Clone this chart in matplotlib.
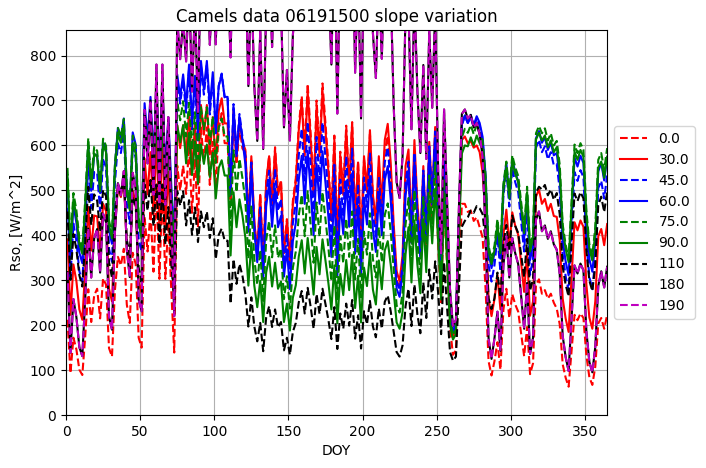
import matplotlib
matplotlib.use("Agg")
import matplotlib.pyplot as plt

days = list(range(1, 366, 2))

rso_0 = [212, 93, 172, 146, 101, 89, 177, 280, 207, 266, 281, 215, 304, 290, 149, 130, 278, 352, 333, 370,
         246, 205, 361, 336, 172, 150, 441, 364, 455, 319, 505, 303, 505, 303, 429, 278, 139, 555, 500, 555,
         492, 600, 450, 570, 420, 640, 563, 640, 512, 608, 504, 638, 672, 605, 605, 475, 663, 558, 642, 593,
         585, 428, 570, 428, 357, 490, 338, 518, 576, 468, 596, 494, 523, 364, 436, 344, 476, 527, 644, 710,
         590, 737, 626, 501, 700, 590, 738, 649, 554, 443, 622, 381, 586, 498, 644, 507, 652, 434, 565, 376,
         568, 497, 625, 483, 426, 552, 449, 587, 621, 538, 402, 302, 281, 335, 523, 544, 384, 563, 435, 352,
         492, 360, 540, 432, 570, 379, 251, 473, 334, 195, 134, 144, 312, 470, 470, 452, 455, 432, 440, 418,
         395, 280, 120, 88, 120, 162, 101, 234, 281, 216, 269, 246, 230, 180, 131, 196, 91, 115, 290, 302,
         270, 278, 259, 270, 250, 237, 202, 113, 83, 63, 144, 223, 211, 226, 216, 132, 84, 67, 108, 204,
         216, 192, 223]
rso_30 = [391, 223, 335, 298, 235, 212, 328, 463, 366, 444, 442, 361, 470, 454, 281, 253, 421, 506, 485, 527,
          375, 331, 499, 473, 296, 271, 571, 491, 585, 445, 615, 418, 615, 418, 541, 387, 258, 645, 594, 645,
          578, 675, 540, 648, 513, 690, 624, 690, 580, 663, 564, 677, 705, 649, 649, 486, 679, 572, 658, 608,
          590, 432, 576, 432, 360, 490, 338, 518, 576, 468, 590, 490, 518, 360, 432, 338, 468, 518, 634, 698,
          576, 720, 612, 490, 684, 576, 720, 634, 540, 432, 612, 374, 576, 490, 634, 504, 648, 432, 562, 374,
          576, 504, 634, 490, 432, 576, 468, 612, 648, 562, 426, 320, 298, 355, 554, 591, 417, 612, 473, 382,
          554, 405, 608, 486, 641, 442, 293, 553, 390, 228, 176, 189, 410, 612, 620, 605, 610, 595, 600, 585,
          539, 445, 258, 220, 258, 311, 235, 400, 457, 377, 451, 421, 401, 337, 274, 361, 221, 253, 486, 502,
          470, 481, 454, 470, 443, 441, 389, 259, 215, 185, 309, 429, 411, 433, 419, 290, 217, 192, 253, 398,
          414, 378, 425]
rso_45 = [486, 308, 426, 387, 320, 297, 419, 562, 460, 541, 539, 454, 568, 552, 370, 341, 517, 605, 583, 627,
          472, 426, 600, 572, 389, 364, 670, 589, 685, 542, 715, 515, 715, 515, 640, 485, 354, 745, 693, 745,
          673, 770, 636, 743, 608, 778, 713, 778, 669, 751, 627, 733, 760, 707, 707, 495, 692, 582, 670, 619,
          576, 422, 562, 422, 352, 462, 320, 490, 544, 442, 548, 454, 481, 334, 401, 309, 427, 473, 578, 637,
          522, 652, 554, 443, 619, 521, 651, 573, 488, 391, 557, 341, 524, 445, 576, 461, 593, 395, 514, 343,
          529, 463, 582, 449, 397, 530, 430, 563, 596, 516, 398, 298, 278, 332, 517, 564, 398, 584, 452, 365,
          544, 398, 598, 478, 631, 452, 299, 565, 399, 233, 186, 200, 432, 645, 665, 650, 662, 640, 660, 645,
          610, 518, 334, 297, 334, 397, 320, 487, 546, 464, 549, 518, 496, 430, 364, 462, 312, 347, 595, 612,
          585, 598, 569, 585, 556, 558, 501, 358, 309, 277, 409, 541, 521, 545, 529, 386, 307, 280, 347, 505,
          521, 482, 533]
rso_60 = [526, 350, 467, 428, 361, 338, 459, 600, 499, 580, 578, 494, 607, 590, 411, 381, 553, 639, 617, 660,
          505, 460, 629, 602, 425, 400, 694, 616, 708, 570, 733, 543, 733, 543, 662, 512, 389, 758, 709, 758,
          689, 780, 653, 755, 628, 788, 726, 788, 685, 763, 634, 732, 757, 708, 708, 490, 684, 576, 662, 612,
          558, 408, 544, 408, 340, 439, 303, 464, 516, 419, 504, 418, 443, 308, 369, 280, 387, 428, 524, 577,
          470, 588, 500, 400, 559, 470, 587, 517, 440, 352, 503, 308, 474, 403, 521, 419, 538, 359, 466, 311,
          484, 424, 532, 411, 363, 492, 400, 523, 554, 480, 375, 281, 263, 313, 488, 542, 383, 561, 434, 351,
          533, 390, 585, 468, 618, 449, 297, 561, 396, 231, 187, 200, 434, 647, 667, 650, 668, 645, 665, 650,
          619, 533, 361, 327, 361, 421, 348, 506, 561, 485, 570, 540, 520, 457, 393, 488, 345, 377, 616, 632,
          606, 618, 590, 606, 578, 583, 527, 390, 342, 311, 444, 573, 553, 577, 561, 425, 347, 319, 386, 542,
          561, 522, 573]
rso_75 = [550, 381, 494, 456, 393, 369, 483, 616, 521, 597, 588, 510, 615, 599, 433, 402, 560, 639, 619, 659,
          510, 470, 622, 598, 438, 409, 671, 602, 684, 561, 693, 527, 693, 527, 631, 489, 384, 698, 656, 698,
          620, 695, 591, 674, 570, 685, 636, 685, 603, 665, 561, 640, 660, 620, 620, 422, 589, 496, 570, 527,
          476, 348, 464, 348, 290, 367, 254, 389, 432, 351, 422, 350, 371, 258, 309, 237, 328, 364, 444, 490,
          398, 498, 423, 339, 473, 397, 496, 436, 372, 298, 422, 258, 398, 338, 437, 352, 453, 302, 392, 262,
          408, 357, 449, 347, 306, 418, 340, 445, 471, 408, 325, 244, 228, 271, 423, 483, 341, 500, 386, 312,
          485, 355, 533, 426, 562, 420, 278, 525, 371, 216, 178, 191, 414, 618, 637, 628, 645, 625, 647, 625,
          611, 533, 377, 346, 377, 436, 369, 514, 564, 494, 578, 551, 532, 473, 415, 508, 373, 404, 627, 643,
          627, 638, 611, 627, 600, 610, 557, 424, 379, 348, 477, 602, 583, 605, 590, 455, 380, 355, 418, 568,
          583, 546, 594]
rso_90 = [534, 370, 480, 443, 381, 359, 470, 600, 507, 582, 574, 498, 601, 585, 423, 393, 547, 625, 606, 644,
          495, 456, 605, 582, 425, 393, 645, 578, 657, 539, 655, 498, 655, 498, 596, 452, 355, 645, 607, 645,
          560, 628, 534, 609, 515, 602, 559, 602, 530, 584, 482, 550, 567, 533, 533, 355, 496, 418, 480, 444,
          394, 288, 384, 288, 240, 299, 207, 317, 352, 286, 339, 281, 297, 207, 248, 188, 261, 289, 353, 389,
          315, 394, 335, 268, 374, 313, 391, 344, 293, 235, 333, 204, 314, 267, 345, 278, 357, 238, 310, 206,
          328, 287, 361, 279, 246, 344, 280, 366, 387, 335, 275, 206, 192, 229, 357, 418, 295, 433, 335, 271,
          435, 318, 477, 382, 504, 388, 257, 485, 342, 200, 168, 180, 390, 582, 600, 598, 618, 600, 622, 605,
          593, 518, 366, 336, 366, 425, 360, 501, 551, 482, 564, 537, 518, 462, 405, 496, 364, 395, 613, 628,
          611, 622, 596, 611, 585, 596, 544, 414, 370, 340, 465, 586, 568, 590, 575, 442, 370, 344, 406, 551,
          564, 528, 575]
rso_110 = [453, 301, 403, 369, 311, 286, 389, 508, 423, 491, 477, 408, 501, 487, 340, 306, 444, 513, 496, 530,
           390, 356, 486, 465, 328, 296, 513, 455, 523, 421, 513, 380, 513, 380, 463, 336, 256, 498, 466, 498,
           422, 478, 401, 462, 385, 453, 418, 453, 394, 438, 347, 401, 415, 388, 388, 248, 347, 292, 336, 310,
           269, 197, 262, 197, 164, 205, 142, 217, 242, 196, 235, 195, 207, 144, 172, 134, 185, 205, 251, 276,
           226, 283, 241, 192, 269, 225, 281, 247, 211, 169, 240, 147, 226, 192, 248, 199, 256, 170, 222, 148,
           231, 202, 254, 197, 173, 237, 192, 252, 266, 231, 186, 140, 130, 155, 242, 281, 198, 290, 224, 182,
           295, 216, 324, 259, 342, 272, 180, 340, 240, 140, 121, 130, 281, 419, 432, 440, 455, 450, 465, 460,
           447, 385, 260, 236, 260, 317, 262, 381, 423, 365, 444, 421, 405, 356, 307, 392, 277, 303, 495, 508,
           502, 512, 489, 502, 479, 494, 447, 330, 290, 264, 382, 493, 476, 496, 482, 367, 299, 276, 333, 467,
           486, 452, 497]
rso_180 = [318, 139, 258, 218, 151, 131, 262, 415, 306, 393, 414, 317, 448, 429, 219, 190, 407, 516, 489, 543,
           368, 307, 539, 503, 257, 231, 679, 560, 700, 490, 780, 468, 780, 468, 663, 440, 220, 880, 792, 880,
           787, 960, 720, 912, 672, 1030, 906, 1030, 824, 979, 825, 1045, 1100, 990, 990, 796, 1112, 936, 1076, 995,
           1000, 732, 976, 732, 610, 857, 592, 907, 1008, 819, 1050, 870, 922, 640, 768, 611, 845, 936, 1144, 1261,
           1040, 1300, 1105, 884, 1235, 1040, 1300, 1144, 975, 780, 1097, 671, 1032, 877, 1135, 889, 1143, 762, 991, 660,
           1000, 875, 1100, 850, 750, 976, 793, 1037, 1098, 952, 690, 518, 483, 575, 897, 901, 636, 933, 721, 583,
           779, 570, 855, 684, 903, 544, 360, 680, 480, 280, 198, 212, 460, 670, 680, 660, 668, 640, 650, 625,
           575, 399, 171, 125, 171, 230, 143, 332, 398, 306, 394, 360, 336, 264, 192, 294, 136, 172, 435, 453,
           409, 422, 392, 409, 380, 368, 314, 176, 129, 98, 215, 333, 315, 337, 322, 186, 118, 95, 152, 287,
           320, 284, 330]
rso_190 = list(rso_180)

labels = ["0.0", "30.0", "45.0", "60.0", "75.0", "90.0", "110", "180", "190"]
series = [rso_0, rso_30, rso_45, rso_60, rso_75, rso_90, rso_110, rso_180, rso_190]
styles = ["r--", "r-", "b--", "b-", "g--", "g-", "k--", "k-", "m--"]

for s in series:
    assert len(s) == len(days), len(s)

fig = plt.figure(figsize=(7.06, 4.68), dpi=100)
ax = fig.add_axes([0.0935, 0.1132, 0.7665, 0.8228])
for s, st, lab in zip(series, styles, labels):
    ax.plot(days, s, st, label=lab, linewidth=1.5)

ax.set_xlim(0, 365)
ax.set_ylim(0, 857)
ax.grid(True)
ax.set_title("Camels data 06191500 slope variation")
ax.set_xlabel("DOY")
ax.set_ylabel("Rso, [W/m^2]")
ax.legend(loc="center left", bbox_to_anchor=(1.0, 0.5))
fig.savefig("out.png", dpi=100)
